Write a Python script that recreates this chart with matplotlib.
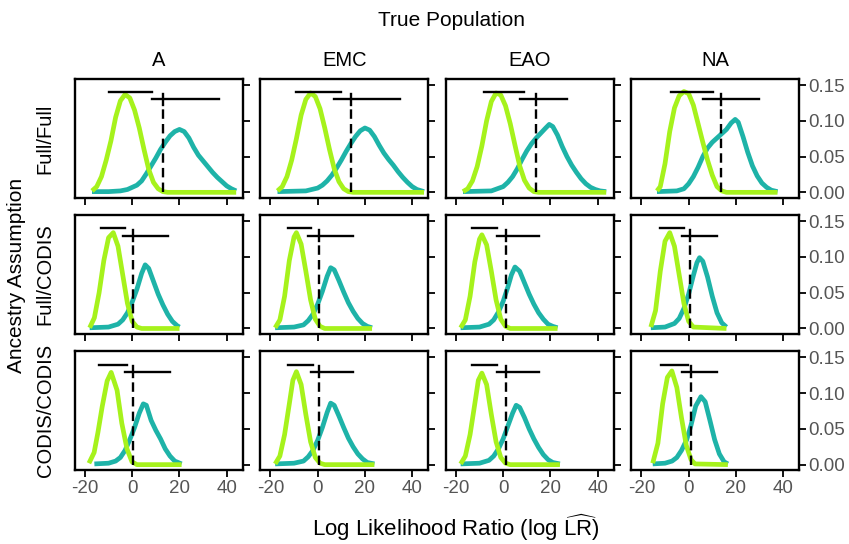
import matplotlib
matplotlib.use("Agg")
import matplotlib.pyplot as plt

plt.rcParams['font.family'] = ['Liberation Sans', 'DejaVu Sans']
plt.rcParams['mathtext.fontset'] = 'custom'
plt.rcParams['mathtext.rm'] = 'Liberation Sans'
plt.rcParams['mathtext.it'] = 'Liberation Sans:italic'

populations = ["A", "EMC", "EAO", "NA"]
assumptions = ["Full/Full", "Full/CODIS", "CODIS/CODIS"]
x_ticks = [-20, 0, 20, 40]
y_ticks = [0.00, 0.05, 0.10, 0.15]
y_tick_labels = ["0.00", "0.05", "0.10", "0.15"]

GREEN = "#A6F21C"
TEAL = "#1EB3A8"

# ---- Full/Full row ----
ff_A_gx = [-17, -15, -13, -11, -9, -7, -5, -3, -1, 1, 3, 5, 7, 9, 11, 13, 15, 44]
ff_A_gy = [0.002, 0.008, 0.022, 0.045, 0.072, 0.105, 0.128, 0.137, 0.132, 0.115, 0.09, 0.06, 0.032, 0.014, 0.005, 0.001, 0.0, 0.0]
ff_A_tx = [-17, -10, -5, -2, 0, 2, 4, 6, 8, 10, 12, 14, 16, 18, 20, 22, 24, 26, 28, 30, 32, 34, 36, 38, 40, 42, 44]
ff_A_ty = [0.001, 0.001, 0.002, 0.004, 0.007, 0.010, 0.016, 0.026, 0.037, 0.048, 0.060, 0.070, 0.079, 0.085, 0.088, 0.085, 0.076, 0.063, 0.052, 0.044, 0.036, 0.028, 0.021, 0.015, 0.009, 0.005, 0.002]

ff_EMC_gx = [-17, -15, -13, -11, -9, -7, -5, -3, -1, 1, 3, 5, 7, 9, 11, 13, 15, 45]
ff_EMC_gy = [0.002, 0.008, 0.022, 0.045, 0.075, 0.108, 0.13, 0.139, 0.134, 0.117, 0.09, 0.06, 0.033, 0.015, 0.005, 0.001, 0.0, 0.0]
ff_EMC_tx = [-17, -5, 0, 2, 4, 6, 8, 10, 12, 14, 16, 18, 20, 22, 24, 26, 28, 30, 32, 34, 36, 38, 40, 42, 45]
ff_EMC_ty = [0.001, 0.002, 0.006, 0.010, 0.016, 0.024, 0.034, 0.045, 0.057, 0.068, 0.078, 0.086, 0.090, 0.087, 0.078, 0.066, 0.055, 0.046, 0.038, 0.029, 0.021, 0.014, 0.008, 0.004, 0.001]

ff_EAO_gx = [-17, -15, -13, -11, -9, -7, -5, -3, -1, 1, 3, 5, 7, 9, 11, 13, 15, 43.6]
ff_EAO_gy = [0.001, 0.005, 0.016, 0.036, 0.065, 0.1, 0.127, 0.139, 0.136, 0.121, 0.096, 0.066, 0.037, 0.017, 0.006, 0.001, 0.0, 0.0]
ff_EAO_tx = [-17, -5, 0, 2, 4, 6, 8, 10, 12, 14, 16, 18, 19.5, 21, 23, 25, 27, 29, 31, 33, 35, 37, 39, 41, 43.6]
ff_EAO_ty = [0.001, 0.002, 0.008, 0.014, 0.022, 0.033, 0.046, 0.058, 0.068, 0.076, 0.083, 0.090, 0.095, 0.092, 0.080, 0.064, 0.050, 0.038, 0.028, 0.019, 0.012, 0.007, 0.004, 0.002, 0.001]

ff_NA_gx = [-13.4, -12, -10, -8, -6, -4, -2, 0, 2, 4, 6, 8, 10, 12, 14, 16, 37.6]
ff_NA_gy = [0.002, 0.008, 0.04, 0.085, 0.118, 0.135, 0.141, 0.138, 0.122, 0.096, 0.07, 0.045, 0.024, 0.008, 0.002, 0.0, 0.0]
ff_NA_tx = [-13.4, -5, -2, 0, 2, 4, 6, 8, 10, 12, 14, 16, 18, 19.7, 21, 23, 25, 27, 29, 31, 33, 35, 37.6]
ff_NA_ty = [0.001, 0.002, 0.005, 0.012, 0.022, 0.035, 0.050, 0.062, 0.070, 0.076, 0.082, 0.088, 0.097, 0.102, 0.098, 0.078, 0.056, 0.037, 0.023, 0.013, 0.007, 0.003, 0.001]

# ---- Full/CODIS row ----
fc_A_gx = [-18, -16, -14, -12, -10, -8, -6, -4, -2, 0, 2, 4, 20]
fc_A_gy = [0.001, 0.015, 0.05, 0.095, 0.127, 0.134, 0.115, 0.075, 0.035, 0.01, 0.002, 0.0, 0.0]
fc_A_tx = [-18, -10, -6, -4, -2, 0, 2, 4, 5.5, 7, 9, 11, 13, 15, 17, 19, 20]
fc_A_ty = [0.001, 0.002, 0.006, 0.012, 0.022, 0.037, 0.055, 0.077, 0.089, 0.084, 0.066, 0.048, 0.033, 0.020, 0.010, 0.004, 0.002]

fc_EMC_gx = [-18, -16, -14, -12, -10, -9, -7, -5, -3, -1, 1, 3, 23]
fc_EMC_gy = [0.001, 0.012, 0.045, 0.095, 0.128, 0.134, 0.118, 0.08, 0.04, 0.013, 0.003, 0.0, 0.0]
fc_EMC_tx = [-18, -10, -6, -4, -2, 0, 2, 4, 5.5, 7, 9, 11, 13, 15, 17, 19, 21, 23]
fc_EMC_ty = [0.001, 0.002, 0.005, 0.011, 0.020, 0.034, 0.052, 0.073, 0.085, 0.082, 0.067, 0.051, 0.036, 0.024, 0.014, 0.007, 0.003, 0.001]

fc_EAO_gx = [-18, -16, -14, -12, -10, -9, -7, -5, -3, -1, 1, 3, 23]
fc_EAO_gy = [0.001, 0.012, 0.045, 0.093, 0.125, 0.131, 0.117, 0.08, 0.04, 0.013, 0.003, 0.0, 0.0]
fc_EAO_tx = [-18, -10, -6, -4, -2, 0, 2, 3.5, 5, 7, 9, 11, 13, 15, 17, 19, 21, 23]
fc_EAO_ty = [0.001, 0.002, 0.006, 0.012, 0.023, 0.038, 0.058, 0.075, 0.086, 0.080, 0.064, 0.048, 0.034, 0.022, 0.013, 0.006, 0.003, 0.001]

fc_NA_gx = [-16, -14, -12, -10, -8, -6, -4, -2, 0, 2, 16]
fc_NA_gy = [0.002, 0.025, 0.08, 0.122, 0.134, 0.115, 0.075, 0.035, 0.01, 0.002, 0.0]
fc_NA_tx = [-16, -10, -6, -4, -2, 0, 2, 3.5, 4.6, 6, 8, 10, 12, 14, 16]
fc_NA_ty = [0.001, 0.002, 0.007, 0.014, 0.028, 0.048, 0.074, 0.092, 0.099, 0.094, 0.072, 0.045, 0.022, 0.008, 0.002]

# ---- CODIS/CODIS row ----
cc_A_gx = [-18.3, -16.1, -14.5, -12.7, -10.6, -8.9, -6.4, -4.4, -2.2, -0.1, 2, 20.9]
cc_A_gy = [0.002, 0.017, 0.045, 0.081, 0.117, 0.129, 0.104, 0.058, 0.022, 0.004, 0.0, 0.0]
cc_A_tx = [-16, -10, -7, -5, -3, -1, 1, 3, 4.7, 6, 8, 10, 12, 14, 16, 18, 20.9]
cc_A_ty = [0.001, 0.002, 0.005, 0.010, 0.020, 0.035, 0.052, 0.072, 0.085, 0.083, 0.062, 0.048, 0.036, 0.022, 0.012, 0.005, 0.001]

cc_EMC_gx = [-18, -16, -14, -12, -10.5, -9, -7, -5, -3, -1, 1, 3, 24]
cc_EMC_gy = [0.001, 0.012, 0.042, 0.085, 0.118, 0.13, 0.112, 0.07, 0.032, 0.01, 0.002, 0.0, 0.0]
cc_EMC_tx = [-18, -10, -6, -4, -2, 0, 2, 4, 5.5, 7, 9, 11, 13, 15, 17, 19, 21, 24]
cc_EMC_ty = [0.001, 0.002, 0.005, 0.011, 0.020, 0.034, 0.052, 0.073, 0.086, 0.083, 0.068, 0.052, 0.037, 0.025, 0.015, 0.008, 0.003, 0.001]

cc_EAO_gx = [-18, -16, -14, -12, -10.5, -9, -7, -5, -3, -1, 1, 3, 24]
cc_EAO_gy = [0.001, 0.012, 0.042, 0.085, 0.118, 0.128, 0.112, 0.07, 0.032, 0.01, 0.002, 0.0, 0.0]
cc_EAO_tx = [-18, -10, -6, -4, -2, 0, 2, 4, 5.5, 7, 9, 11, 13, 15, 17, 19, 21, 24]
cc_EAO_ty = [0.001, 0.002, 0.006, 0.012, 0.022, 0.036, 0.054, 0.072, 0.083, 0.080, 0.066, 0.050, 0.036, 0.024, 0.014, 0.007, 0.003, 0.001]

cc_NA_gx = [-15.2, -13, -11, -9, -7.1, -5, -3, -1, 1, 2.7, 16.6]
cc_NA_gy = [0.002, 0.03, 0.085, 0.122, 0.131, 0.108, 0.065, 0.027, 0.007, 0.001, 0.0]
cc_NA_tx = [-15.2, -10, -7, -5, -3, -0.8, 1, 3, 5.2, 7, 9, 11, 13, 15, 16.6]
cc_NA_ty = [0.001, 0.002, 0.005, 0.01, 0.02, 0.035, 0.055, 0.082, 0.095, 0.088, 0.062, 0.035, 0.015, 0.004, 0.001]

# interval bars: [green_lo, green_hi, teal_lo, teal_hi, threshold]
ff_bars = [[-10, 8.3, 8.3, 36.9, 13.1], [-9, 10, 7, 35, 14.3], [-8, 9, 7, 27, 14], [-7.5, 10.4, 6.2, 29.9, 13.8]]
fc_bars = [[-13, -3, -4, 15, 0.3], [-12.5, -3, -4, 15, 0.5], [-13, -2.5, -2.5, 15, 1], [-12, -2, -3, 12, 0.5]]
cc_bars = [[-14, -2.2, -2.9, 16, 0.3], [-12.5, -2, -3, 15, 0.5], [-13, -2.5, -2.5, 15, 1], [-11.6, -0.1, -2.9, 12.2, 1]]

curves = [
    [(ff_A_gx, ff_A_gy, ff_A_tx, ff_A_ty), (ff_EMC_gx, ff_EMC_gy, ff_EMC_tx, ff_EMC_ty),
     (ff_EAO_gx, ff_EAO_gy, ff_EAO_tx, ff_EAO_ty), (ff_NA_gx, ff_NA_gy, ff_NA_tx, ff_NA_ty)],
    [(fc_A_gx, fc_A_gy, fc_A_tx, fc_A_ty), (fc_EMC_gx, fc_EMC_gy, fc_EMC_tx, fc_EMC_ty),
     (fc_EAO_gx, fc_EAO_gy, fc_EAO_tx, fc_EAO_ty), (fc_NA_gx, fc_NA_gy, fc_NA_tx, fc_NA_ty)],
    [(cc_A_gx, cc_A_gy, cc_A_tx, cc_A_ty), (cc_EMC_gx, cc_EMC_gy, cc_EMC_tx, cc_EMC_ty),
     (cc_EAO_gx, cc_EAO_gy, cc_EAO_tx, cc_EAO_ty), (cc_NA_gx, cc_NA_gy, cc_NA_tx, cc_NA_ty)],
]
bars = [ff_bars, fc_bars, cc_bars]

W, H = 849, 544
fig = plt.figure(figsize=(W / 100, H / 100), dpi=100)
gs = fig.add_gridspec(3, 4, left=75 / W, right=799 / W, top=1 - 79 / H, bottom=1 - 470 / H,
                      wspace=0.107, hspace=0.147)

GREEN_BAR_Y = 0.14
TEAL_BAR_Y = 0.13
XLIM = (-24.2, 46.7)
YLIM = (-0.0075, 0.1585)

row_centers = []
for r in range(3):
    for c in range(4):
        ax = fig.add_subplot(gs[r, c])
        gx, gy, tx, ty = curves[r][c]
        ax.plot(tx, ty, color=TEAL, lw=3.4, solid_joinstyle='round', solid_capstyle='butt', zorder=2)
        ax.plot(gx, gy, color=GREEN, lw=3.4, solid_joinstyle='round', solid_capstyle='butt', zorder=3)
        glo, ghi, tlo, thi, thr = bars[r][c]
        ax.plot([thr, thr], [0, 0.123], color='black', lw=1.7, dashes=(4, 2.2), zorder=4)
        ax.plot([glo, ghi], [GREEN_BAR_Y, GREEN_BAR_Y], color='black', lw=1.7, zorder=5)
        ax.plot([tlo, thi], [TEAL_BAR_Y, TEAL_BAR_Y], color='black', lw=1.7, zorder=5)
        ax.plot([thr, thr], [TEAL_BAR_Y - 0.008, TEAL_BAR_Y + 0.008], color='black', lw=1.7, zorder=5)
        ax.set_xlim(*XLIM)
        ax.set_ylim(*YLIM)
        ax.set_xticks(x_ticks)
        ax.set_yticks(y_ticks)
        ax.yaxis.tick_right()
        ax.tick_params(axis='both', direction='out', length=5, width=1.3, colors='black',
                       labelcolor='#555555', labelsize=13.5, pad=2)
        if r == 2:
            ax.set_xticklabels([str(v) for v in x_ticks])
        else:
            ax.set_xticklabels([])
        if c == 3:
            ax.set_yticklabels(y_tick_labels)
        else:
            ax.set_yticklabels([])
        for s in ax.spines.values():
            s.set_linewidth(1.7)
            s.set_color('black')
        if r == 0:
            ax.set_title(populations[c], fontsize=14.5, pad=9)
        if c == 0:
            pos = ax.get_position()
            fig.text(45 / W, (pos.y0 + pos.y1) / 2, assumptions[r], rotation=90,
                     ha='center', va='center', fontsize=14.5)

fig.text(452 / W, 1 - 20 / H, "True Population", ha='center', va='center', fontsize=15)
fig.text(17 / W, 1 - 275 / H, "Ancestry Assumption", ha='center', va='center', rotation=90, fontsize=15)
fig.text(456 / W, 1 - 528 / H, r"Log Likelihood Ratio (log $\widehat{\mathrm{LR}}$)", ha='center', va='center', fontsize=16)

fig.savefig("out.png", dpi=100)
